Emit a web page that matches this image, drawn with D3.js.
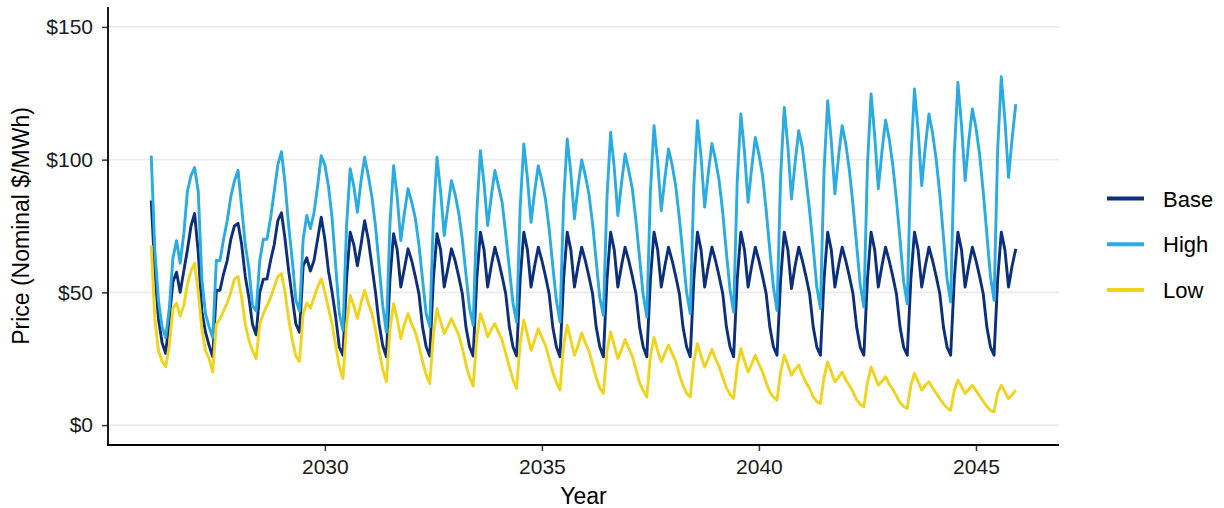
<!DOCTYPE html>
<html>
<head>
<meta charset="utf-8">
<script src="https://cdn.jsdelivr.net/npm/d3@7"></script>
<style>
  html, body { margin: 0; padding: 0; background: #fff; }
  svg { display: block; font-family: "Liberation Sans", Arial, sans-serif; }
</style>
</head>
<body>
<svg id="chart" width="1224" height="508"></svg>
<script>
// Monthly prices, one row of Jan..Dec per year, 2026-2045
const years = d3.range(2026, 2046);
const seriesNames = ["Base", "High", "Low"];
const seriesColors = ["#0C2F7D", "#2AABE2", "#F0D31D"];
const yTicks = [0, 50, 100, 150];
const xTicks = [2030, 2035, 2040, 2045];

const baseRows = [
  [84.6, 58, 40, 31, 27, 40, 54, 57.6, 50, 58, 66, 75],
  [79.7, 65, 43, 35, 30, 25.7, 50.8, 50.8, 57, 62, 70, 75],
  [76, 68, 56, 48, 38, 34, 50, 55, 55, 62, 68, 77],
  [80, 70, 58, 48, 38, 35, 60, 63, 58, 62, 70, 78.3],
  [70, 58, 50, 40.7, 29.4, 26.3, 55, 72.7, 68, 60, 68, 77],
  [70, 60, 50, 38, 30, 25.7, 55, 72.1, 66, 52, 59, 66.4],
  [62, 56, 49.5, 37, 29.5, 26, 55, 72.1, 66, 52, 59, 66.4],
  [62, 56, 49.5, 37, 29.5, 26, 55, 72.7, 66, 52, 60, 67],
  [62, 56, 49.5, 37, 29.5, 26, 55, 72.7, 66, 52, 60, 67],
  [62, 56, 49.5, 37, 29.5, 25.7, 55, 72.7, 66, 52, 60, 67],
  [62, 56, 49.5, 37, 29.5, 25.7, 55, 72.7, 66, 52, 60, 67],
  [62, 56, 49.5, 37, 29.5, 25.7, 55, 72.7, 66, 52, 60, 67],
  [62, 56, 49.5, 37, 29.5, 25.7, 55, 72.7, 66, 52, 60, 67],
  [62, 56, 49.5, 37, 29.5, 25.7, 55, 72.7, 66, 52, 60, 67],
  [62, 56, 49.5, 37, 29.5, 26.3, 55, 72.7, 66, 51.4, 60, 67],
  [62, 56, 49.5, 37, 29.4, 26.3, 55, 72.7, 66, 52, 60, 67],
  [62, 56, 49.5, 37, 29.4, 26.3, 55, 72.7, 66, 52, 60, 67],
  [62, 56, 49.5, 37, 29.4, 26.3, 55, 72.7, 66, 52, 60, 67],
  [62, 56, 49.5, 37, 29.4, 26.3, 55, 72.7, 66, 52, 60, 67],
  [62, 56, 49.5, 37, 29.4, 26.3, 55, 72.7, 66, 52, 60, 66.4]
];

const highRows = [
  [101.5, 66, 47, 37, 33, 44, 63, 69.5, 61, 72, 88, 94],
  [97, 88, 55, 42, 37, 33, 62, 62, 70, 77, 86, 92],
  [96, 82, 68, 59, 45, 43, 62, 70, 70, 78, 88, 98],
  [103, 91, 75, 62, 47, 43, 70, 79, 74, 80, 90, 101.5],
  [98, 90, 78, 60, 42, 35.7, 75, 96.6, 90, 80.2, 92, 100.9],
  [94, 86, 75, 60, 45, 35, 76, 97.7, 86, 69.5, 80, 89],
  [84, 78, 68, 55, 42, 37, 78, 100.9, 88, 71.4, 82, 92.1],
  [87, 80, 70, 57, 44, 37.6, 80, 103.4, 91, 75.2, 86, 95.9],
  [90, 84, 72, 59, 46, 38.8, 82, 105.9, 93, 76.4, 88, 97.7],
  [92, 85, 74, 60, 47, 38.8, 84, 107.8, 95, 77.7, 90, 99.9],
  [94, 87, 76, 62, 48, 41.4, 86, 110.3, 97, 78.9, 91, 102.1],
  [96, 89, 77, 63, 49, 40.7, 88, 112.8, 99, 80.8, 93, 104],
  [98, 90, 78, 64, 50, 42, 90, 114.7, 101, 82.1, 95, 106.1],
  [100, 92, 80, 65, 51, 42.6, 92, 117.2, 103, 83.9, 97, 108.4],
  [102, 94, 81, 66, 52, 43.2, 94, 119.7, 105, 85.2, 99, 110.9],
  [104.6, 93, 80.8, 67, 52, 43.9, 96, 122.2, 107, 87.1, 101, 112.8],
  [106, 96, 83, 68, 53, 44.5, 98, 124.7, 109, 89, 103, 114.9],
  [108, 98, 85, 70, 54, 45.7, 100, 126.6, 111, 90.2, 105, 117.2],
  [110, 100, 87, 71, 55, 46.4, 102, 129.1, 113, 92.1, 107, 119.1],
  [112, 102, 88, 72, 56, 47, 104, 131.2, 115, 93.3, 108, 120.9]
];

const lowRows = [
  [67.7, 40, 28, 24, 22, 30, 44, 46, 41, 45, 53, 58],
  [61, 50, 36, 28, 25, 20, 38, 40, 43, 46, 50, 55],
  [56, 48, 38, 32, 28, 25, 38, 42, 45, 48, 52, 56],
  [57, 50, 40, 32, 26, 24, 42, 46, 44, 48, 52, 55.1],
  [50, 44, 38, 30, 22, 17.5, 38, 48.9, 45, 40.1, 46, 50.8],
  [46, 42, 36, 28, 21, 16.3, 36, 45.7, 40, 32.6, 38, 42],
  [38, 35, 30, 24, 19, 15.7, 34, 43.9, 39, 34.5, 37, 40.1],
  [37, 34, 29, 23, 18, 14.7, 33, 42, 38, 33.2, 36, 38.2],
  [35, 32, 27, 22, 17, 13.8, 31, 39.5, 34, 28.2, 32, 36.3],
  [33, 30, 25, 20, 16, 13.2, 30, 37.6, 32, 26.3, 30, 34.7],
  [31, 28, 23, 18, 14, 11.9, 28, 35.1, 30, 25, 28.5, 32.2],
  [29, 26, 21, 16, 13, 10.6, 26, 33, 28, 23.8, 27, 30.1],
  [27, 24, 19, 15, 12, 10.6, 24, 30.7, 26, 21.9, 25, 28.5],
  [25, 22, 18, 14, 11.5, 10, 22, 28.8, 24, 20, 23, 26.3],
  [23, 20, 16, 12.5, 10.5, 9.4, 20, 26.3, 22.5, 18.8, 21, 22.6],
  [19, 16, 13.8, 10.6, 8.8, 8.2, 18, 23.8, 20, 16.3, 18, 20],
  [17, 15, 12.5, 9.5, 7.8, 6.9, 16, 21.9, 18.5, 15, 16.5, 18.2],
  [15.5, 13.5, 11, 8.5, 7, 6.3, 15, 19.4, 16.5, 13.2, 15, 16.3],
  [14, 12, 10, 8, 6.5, 5.6, 13, 16.9, 14.5, 11.9, 13.5, 15],
  [13, 11, 9, 7, 5.5, 5, 12, 15, 12.5, 10, 11.5, 13.2]
];

// Flatten year rows into monthly points: t = year + month/12
function toPoints(rows) {
  const pts = [];
  rows.forEach((row, i) => row.forEach((v, m) => pts.push({ t: years[i] + m / 12, v })));
  return pts;
}
const series = [baseRows, highRows, lowRows].map((rows, i) => ({
  name: seriesNames[i], color: seriesColors[i], points: toPoints(rows)
}));

const svg = d3.select("#chart");
const panel = { left: 108, right: 1059, top: 7, bottom: 445 };
const fontFamily = "'Liberation Sans', Arial, sans-serif";

// x: data extent with 5% padding on each side
const tExt = d3.extent(series[0].points, d => d.t);
const pad = (tExt[1] - tExt[0]) * 0.05;
const x = d3.scaleLinear().domain([tExt[0] - pad, tExt[1] + pad]).range([panel.left, panel.right]);
// y: $0-$150 with 5% padding
const y = d3.scaleLinear().domain([-7.5, 157.5]).range([panel.bottom, panel.top]);

// horizontal gridlines
svg.append("g").selectAll("line").data(yTicks).join("line")
  .attr("x1", panel.left).attr("x2", panel.right)
  .attr("y1", d => y(d)).attr("y2", d => y(d))
  .attr("stroke", "#EBEBEB").attr("stroke-width", 1.7);

// series lines
const line = d3.line().x(d => x(d.t)).y(d => y(d.v));
svg.append("g").selectAll("path").data(series).join("path")
  .attr("d", d => line(d.points))
  .attr("fill", "none")
  .attr("stroke", d => d.color)
  .attr("stroke-width", 2.9)
  .attr("stroke-linejoin", "round")
  .attr("stroke-linecap", "butt");

// axes
const yAxis = d3.axisLeft(y).tickValues(yTicks).tickFormat(d => "$" + d).tickSize(6).tickPadding(9);
const xAxis = d3.axisBottom(x).tickValues(xTicks).tickFormat(d3.format("d")).tickSize(6).tickPadding(8);

const gy = svg.append("g").attr("transform", `translate(${panel.left},0)`).call(yAxis);
const gx = svg.append("g").attr("transform", `translate(0,${panel.bottom})`).call(xAxis);
[gx, gy].forEach(g => {
  g.select(".domain").remove();
  g.selectAll(".tick line").attr("stroke", "#333").attr("stroke-width", 1.5);
  g.selectAll(".tick text").attr("fill", "#1a1a1a").attr("font-size", 21)
    .attr("font-family", fontFamily);
});
// axis lines
svg.append("line").attr("x1", panel.left).attr("x2", panel.left)
  .attr("y1", panel.top).attr("y2", panel.bottom + 0.9)
  .attr("stroke", "#000").attr("stroke-width", 1.8);
svg.append("line").attr("x1", panel.left - 0.9).attr("x2", panel.right)
  .attr("y1", panel.bottom).attr("y2", panel.bottom)
  .attr("stroke", "#000").attr("stroke-width", 1.8);

// axis titles
svg.append("text").attr("x", (panel.left + panel.right) / 2).attr("y", 504)
  .attr("text-anchor", "middle").attr("font-size", 23).attr("fill", "#000").text("Year");
svg.append("text").attr("transform", `translate(29,${(panel.top + panel.bottom) / 2}) rotate(-90)`)
  .attr("text-anchor", "middle").attr("font-size", 23).attr("fill", "#000").text("Price (Nominal $/MWh)");

// legend
const legend = svg.append("g").attr("transform", "translate(1107,198.5)");
const items = legend.selectAll("g").data(series).join("g")
  .attr("transform", (d, i) => `translate(0,${i * 45.8})`);
items.append("line").attr("x1", 0).attr("x2", 37).attr("y1", 0).attr("y2", 0)
  .attr("stroke", d => d.color).attr("stroke-width", 4);
items.append("text").attr("x", 56).attr("y", 8).attr("font-size", 22).attr("fill", "#000")
  .text(d => d.name);
</script>
</body>
</html>
